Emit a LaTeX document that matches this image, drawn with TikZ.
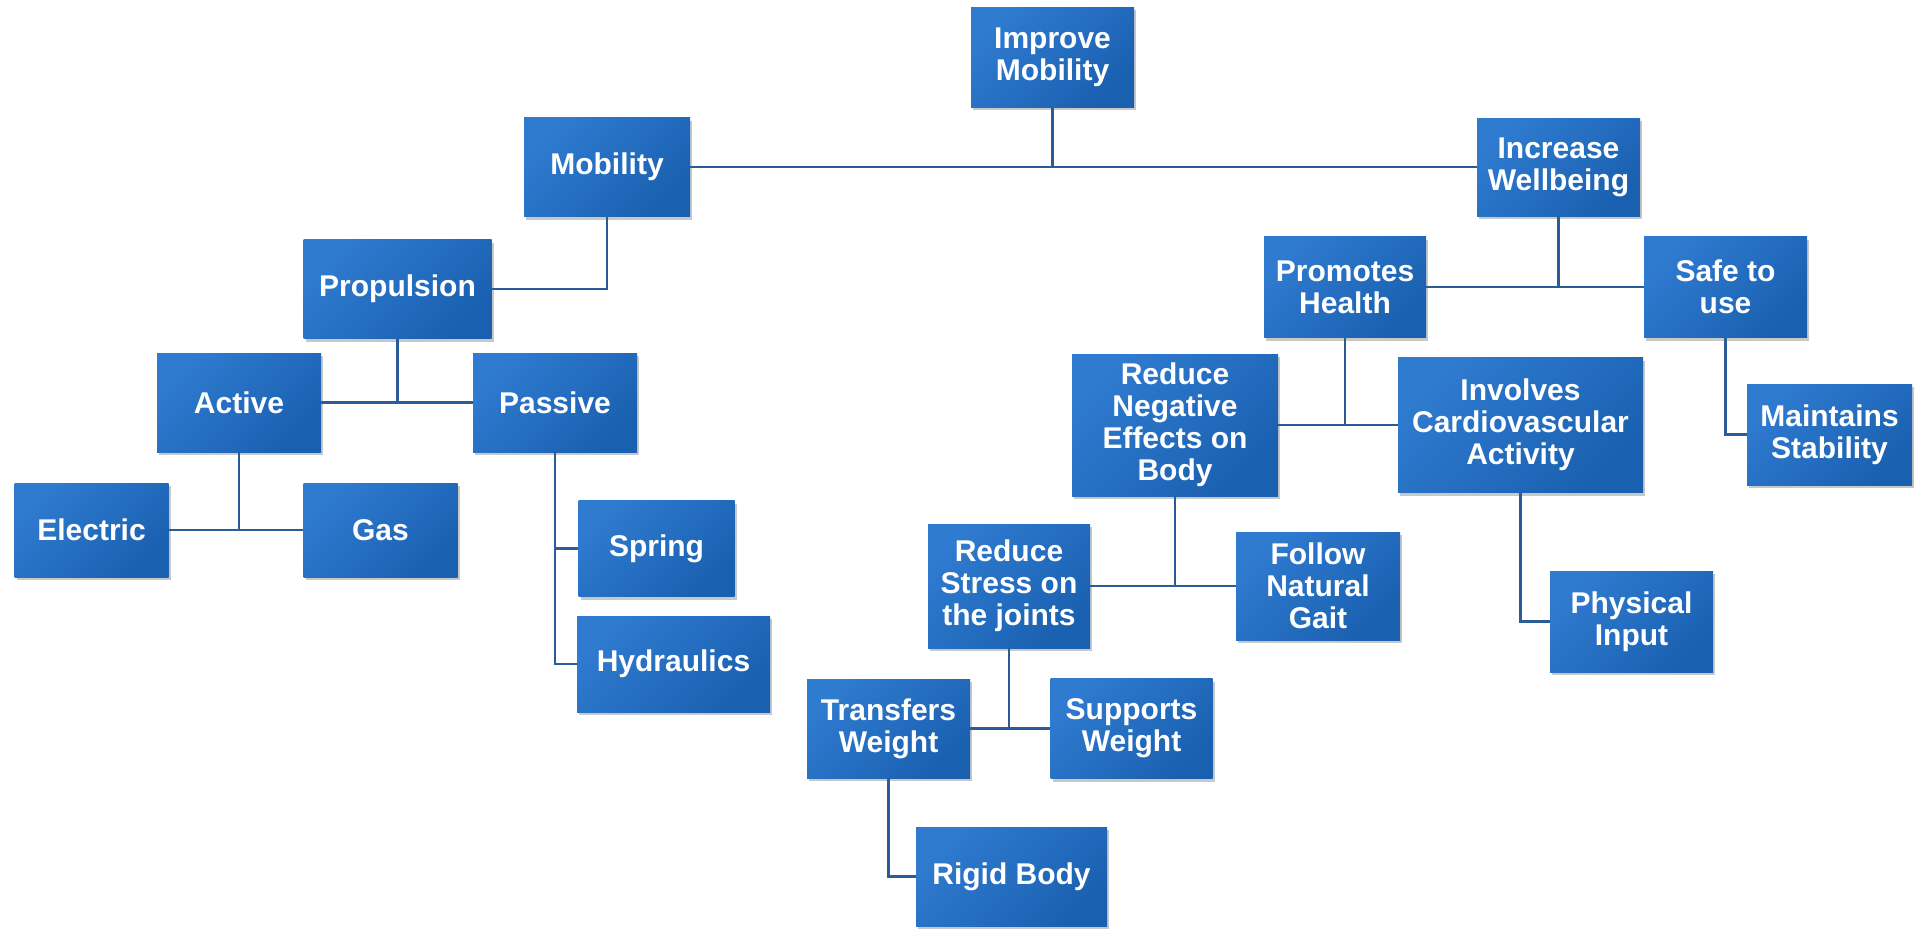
\documentclass[tikz,border=0pt]{standalone}
\usepackage{fontspec}
\setmainfont{Liberation Sans}
\usetikzlibrary{shadows}
\definecolor{boxlight}{HTML}{2F7BD0}
\definecolor{boxdark}{HTML}{1A60B0}
\definecolor{linecol}{HTML}{2C5C98}
\tikzset{
  box/.style={rectangle, inner sep=0pt, align=center, text=white,
    top color=boxlight, bottom color=boxdark, shading angle=45,
    font=\bfseries\fontsize{30}{32}\selectfont,
    drop shadow={shadow xshift=2pt, shadow yshift=-3pt, opacity=0.3, fill=black!70}},
  conn/.style={draw=linecol, line width=2.2pt}
}
\begin{document}
\begin{tikzpicture}[x=1pt,y=-1pt]
\fill[white] (0,0) rectangle (1921,930);
\useasboundingbox (0,0) rectangle (1921,930);
% boxes: center, width, height
\node[box, minimum width=163, minimum height=100] (improve) at (1052.5,57) {Improve\\Mobility};
\node[box, minimum width=166, minimum height=99] (mobility) at (607,167) {Mobility};
\node[box, minimum width=163, minimum height=98] (increase) at (1558.5,167) {Increase\\Wellbeing};
\node[box, minimum width=188, minimum height=99] (propulsion) at (397.5,289) {Propulsion};
\node[box, minimum width=164, minimum height=99] (active) at (239,402.5) {Active};
\node[box, minimum width=164, minimum height=99] (passive) at (555,402.5) {Passive};
\node[box, minimum width=154, minimum height=94] (electric) at (91.5,530) {Electric};
\node[box, minimum width=154, minimum height=94] (gas) at (380.5,530) {Gas};
\node[box, minimum width=156, minimum height=96] (spring) at (656.5,548.5) {Spring};
\node[box, minimum width=193, minimum height=96] (hydraulics) at (673.5,664) {Hydraulics};
\node[box, minimum width=162, minimum height=101] (promotes) at (1345,287) {Promotes\\Health};
\node[box, minimum width=163, minimum height=101] (safe) at (1725.5,287) {Safe to\\use};
\node[box, minimum width=165, minimum height=101] (maintains) at (1829.5,434.5) {Maintains\\Stability};
\node[box, minimum width=206, minimum height=142] (reduceneg) at (1175,425) {Reduce\\Negative\\Effects on\\Body};
\node[box, minimum width=245, minimum height=135] (involves) at (1520.5,425) {Involves\\Cardiovascular\\Activity};
\node[box, minimum width=163, minimum height=101] (physical) at (1631.5,621.5) {Physical\\Input};
\node[box, minimum width=162, minimum height=124] (reducestress) at (1009,586) {Reduce\\Stress on\\the joints};
\node[box, minimum width=164, minimum height=108] (follow) at (1318,586) {Follow\\Natural\\Gait};
\node[box, minimum width=163, minimum height=99] (transfers) at (888.5,728.5) {Transfers\\Weight};
\node[box, minimum width=162, minimum height=100] (supports) at (1131.5,728.5) {Supports\\Weight};
\node[box, minimum width=191, minimum height=99] (rigid) at (1011.5,876.5) {Rigid Body};
% connectors
\draw[conn] (mobility.east) -- (increase.west);
\draw[conn] (improve.south) -- (improve.south |- mobility.east);
\draw[conn] (mobility.south) |- (propulsion.east);
\draw[conn] (active.east) -- (passive.west);
\draw[conn] (propulsion.south) -- (propulsion.south |- active.east);
\draw[conn] (electric.east) -- (gas.west);
\draw[conn] (active.south) -- (active.south |- electric.east);
\draw[conn] (passive.south) |- (hydraulics.west);
\draw[conn] (passive.south |- spring.west) -- (spring.west);
\draw[conn] (promotes.east) -- (safe.west);
\draw[conn] (increase.south) -- (increase.south |- promotes.east);
\draw[conn] (safe.south) |- (maintains.west);
\draw[conn] (reduceneg.east) -- (involves.west);
\draw[conn] (promotes.south) -- (promotes.south |- reduceneg.east);
\draw[conn] (involves.south) |- (physical.west);
\draw[conn] (reducestress.east) -- (follow.west);
\draw[conn] (reduceneg.south) -- (reduceneg.south |- follow.west);
\draw[conn] (transfers.east) -- (supports.west);
\draw[conn] (reducestress.south) -- (reducestress.south |- supports.west);
\draw[conn] (transfers.south) |- (rigid.west);
\end{tikzpicture}
\end{document}
